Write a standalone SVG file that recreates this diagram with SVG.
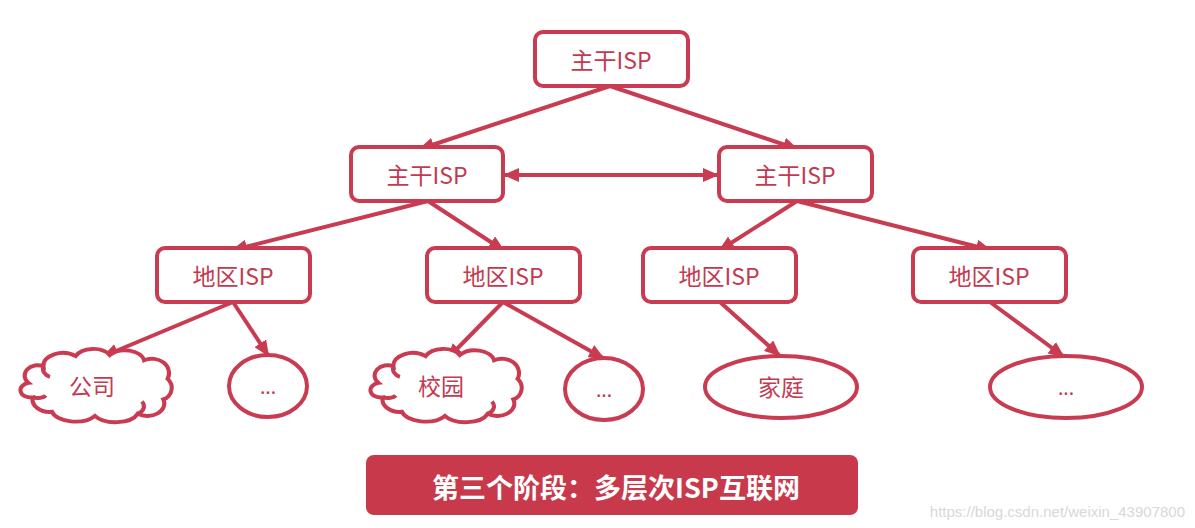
<svg xmlns="http://www.w3.org/2000/svg" width="1195" height="528" viewBox="0 0 1195 528">
<style>
.box{fill:#fff;stroke:#c83b50;stroke-width:4}
.lbl{font-family:"Noto Sans CJK SC","Noto Sans",sans-serif;font-size:23px;fill:#c23a50;text-anchor:middle;dominant-baseline:central}
.dots{font-family:"Noto Sans","Liberation Sans",sans-serif;font-size:20px;fill:#c23a50;text-anchor:middle}
.ln{stroke:#c83b50;stroke-width:4;fill:none;marker-end:url(#ah)}
</style>
<defs>
<marker id="ah" markerWidth="16" markerHeight="14" refX="14" refY="7" orient="auto" markerUnits="userSpaceOnUse">
<path d="M0,0 L16,7 L0,14 Z" fill="#c83b50"/>
</marker>
<marker id="ahs" markerWidth="16" markerHeight="14" refX="2" refY="7" orient="auto" markerUnits="userSpaceOnUse">
<path d="M16,0 L0,7 L16,14 Z" fill="#c83b50"/>
</marker>
<path id="cloud" transform="scale(1.07,1.03)" d="M-64,-2 A12,10 0 0 1 -50,-18 A18,12 0 0 1 -20,-28 A18,12 0 0 1 12,-29 A18,12 0 0 1 44,-24 A16,14 0 0 1 66,-6 A12,12 0 0 1 62,14 A16,12 0 0 1 38,28 A22,12 0 0 1 -2,30 A22,12 0 0 1 -42,26 A16,12 0 0 1 -60,12 A8,6 0 0 1 -64,-2 Z M-60,12 A8,4 0 0 0 -48,10 M38,28 A10,8 0 0 0 42,16 M-50,-18 A10,8 0 0 0 -44,-8" fill="#fff" stroke="#c83b50" stroke-width="3.8"/>
</defs>
<g id="connectors">
<line class="ln" x1="610" y1="86" x2="420" y2="149"/>
<line class="ln" x1="610" y1="86" x2="797" y2="149"/>
<line class="ln" x1="505" y1="175" x2="717" y2="175" style="marker-start:url(#ahs)"/>
<line class="ln" x1="428" y1="201" x2="233" y2="250"/>
<line class="ln" x1="428" y1="201" x2="503" y2="250"/>
<line class="ln" x1="797" y1="201" x2="720" y2="250"/>
<line class="ln" x1="797" y1="201" x2="990" y2="250"/>
<line class="ln" x1="233" y1="302" x2="104" y2="356"/>
<line class="ln" x1="233" y1="302" x2="268" y2="355"/>
<line class="ln" x1="503" y1="302" x2="448" y2="358"/>
<line class="ln" x1="503" y1="302" x2="603" y2="358"/>
<line class="ln" x1="720" y1="302" x2="779" y2="355"/>
<line class="ln" x1="990" y1="302" x2="1063" y2="356"/>
</g>
<g id="n-top"><rect class="box" x="535" y="32" width="153" height="54" rx="8"/><text class="lbl" x="611" y="59">主干ISP</text></g>
<g id="n-bb-left"><rect class="box" x="351" y="147" width="152" height="54" rx="8"/><text class="lbl" x="427" y="174">主干ISP</text></g>
<g id="n-bb-right"><rect class="box" x="719" y="147" width="153" height="54" rx="8"/><text class="lbl" x="795" y="174">主干ISP</text></g>
<g id="n-r1"><rect class="box" x="157" y="248" width="153" height="54" rx="8"/><text class="lbl" x="233" y="275">地区ISP</text></g>
<g id="n-r2"><rect class="box" x="427" y="248" width="153" height="54" rx="8"/><text class="lbl" x="503" y="275">地区ISP</text></g>
<g id="n-r3"><rect class="box" x="643" y="248" width="153" height="54" rx="8"/><text class="lbl" x="719" y="275">地区ISP</text></g>
<g id="n-r4"><rect class="box" x="913" y="248" width="153" height="54" rx="8"/><text class="lbl" x="989" y="275">地区ISP</text></g>
<g id="n-company"><use href="#cloud" x="97" y="385"/><text class="lbl" x="92" y="385">公司</text></g>
<g id="n-dots1"><ellipse class="box" cx="268" cy="386" rx="39" ry="31"/><text class="dots" x="268" y="394">...</text></g>
<g id="n-campus"><use href="#cloud" x="447" y="385"/><text class="lbl" x="441" y="385">校园</text></g>
<g id="n-dots2"><ellipse class="box" cx="604" cy="389" rx="39" ry="31"/><text class="dots" x="604" y="397">...</text></g>
<g id="n-home"><ellipse class="box" cx="781" cy="387" rx="76" ry="31"/><text class="lbl" x="781" y="386">家庭</text></g>
<g id="n-dots3"><ellipse class="box" cx="1066" cy="387" rx="76" ry="31"/><text class="dots" x="1066" y="395">...</text></g>
<g id="banner"><rect x="366" y="455" width="492" height="60" rx="8" fill="#c83a4b"/><text x="616" y="486" font-family="'Noto Sans CJK SC','Noto Sans',sans-serif" font-size="27" font-weight="bold" fill="#fff" text-anchor="middle" dominant-baseline="central">第三个阶段：多层次ISP互联网</text></g>
<text x="1185" y="517" font-family="'Liberation Sans',sans-serif" font-size="15" fill="#d8d8d8" text-anchor="end">https://blog.csdn.net/weixin_43907800</text>
</svg>
